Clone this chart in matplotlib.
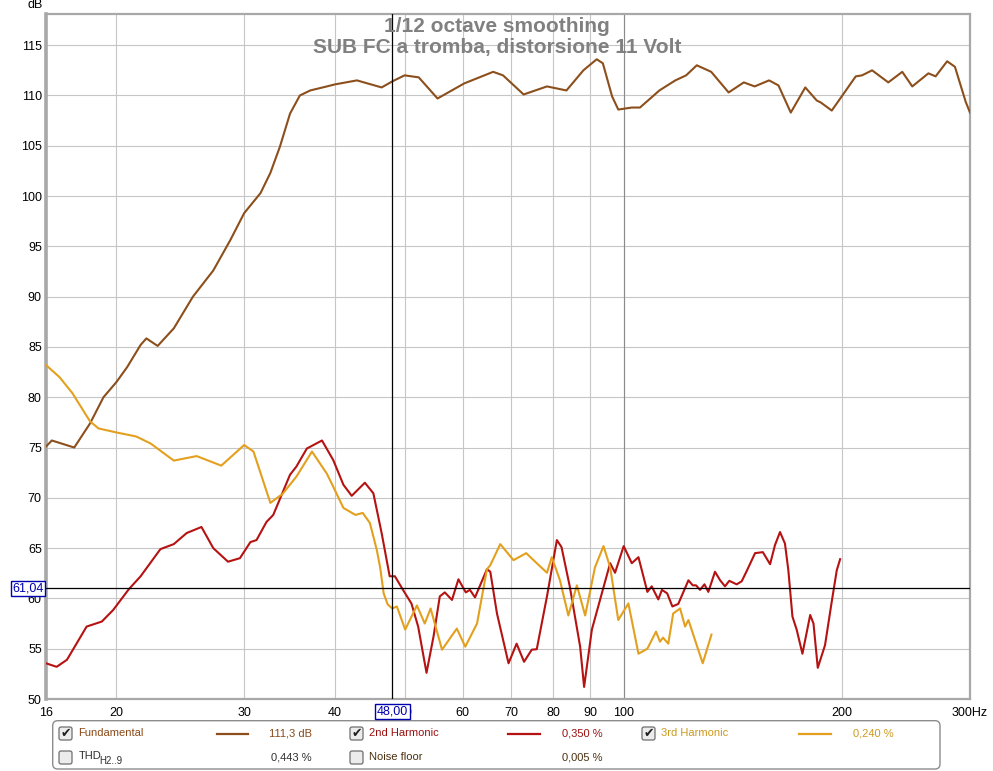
import matplotlib
matplotlib.use("Agg")
import matplotlib.pyplot as plt
from matplotlib.patches import FancyBboxPatch, Rectangle
from matplotlib.lines import Line2D
from matplotlib.ticker import NullLocator

plt.rcParams['font.family'] = ['Liberation Sans', 'DejaVu Sans']

# Fundamental (dB)
fund_f = [16.0, 16.3, 17.5, 18.4, 19.2, 20.0, 20.7, 21.6, 22.0, 22.8, 24.0, 25.5, 27.2, 28.7,
          30.0, 31.6, 32.6, 33.6, 34.7, 35.8, 37.0, 39.0, 40.0, 42.9, 46.4, 48.0, 49.9, 52.2,
          55.4, 60.3, 66.1, 68.2, 72.8, 78.4, 83.4, 88.0, 91.8, 93.6, 96.4, 98.3, 102.6, 105.3,
          112.0, 117.8, 121.9, 126.1, 132.0, 139.5, 146.4, 151.5, 158.6, 163.4, 169.9, 177.9,
          184.5, 186.9, 193.5, 208.8, 213.0, 219.9, 231.5, 242.0, 249.8, 262.9, 269.0, 279.0,
          286.0, 296.0, 300.0]
fund_db = [75.1, 75.7, 75.0, 77.4, 80.0, 81.5, 83.0, 85.2, 85.85, 85.1, 86.85, 90.0, 92.6, 95.6,
           98.3, 100.3, 102.3, 104.9, 108.2, 110.0, 110.5, 110.9, 111.1, 111.5, 110.8, 111.4, 112.0, 111.8,
           109.7, 111.2, 112.35, 112.0, 110.1, 110.9, 110.5, 112.5, 113.6, 113.2, 109.9, 108.6, 108.8, 108.8,
           110.5, 111.5, 112.0, 113.0, 112.35, 110.3, 111.3, 110.9, 111.5, 111.0, 108.3, 110.8,
           109.5, 109.3, 108.5, 111.9, 112.0, 112.5, 111.3, 112.35, 110.9, 112.2, 111.9, 113.4,
           112.85, 109.35, 108.3]

# 2nd harmonic
h2_f = [16.0, 16.55, 17.1, 18.2, 19.1, 19.8, 20.8, 21.6, 23.0, 24.0, 25.0, 26.2, 27.2, 28.5,
        29.6, 30.6, 31.2, 32.2, 32.9, 34.7, 35.4, 36.6, 38.4, 39.8, 41.1, 42.2, 44.0, 45.2,
        46.4, 47.6, 48.4, 49.7, 51.0, 52.1, 53.5, 54.7, 55.8, 56.7, 58.0, 59.2, 60.6, 61.4,
        62.4, 64.8, 65.5, 66.9, 69.4, 71.2, 72.9, 74.7, 75.9, 78.4, 80.9, 82.1, 84.3, 87.1,
        88.2, 90.4, 93.3, 95.8, 97.3, 100.0, 102.6, 104.8, 107.8, 109.3, 111.6, 112.9, 114.8,
        116.7, 118.9, 122.8, 124.5, 125.8, 127.4, 129.2, 130.8, 133.6, 135.8, 137.9, 139.8,
        143.1, 145.4, 147.8, 151.7, 155.5, 159.1, 161.6, 164.2, 166.8, 168.6, 170.8, 173.1,
        176.3, 180.7, 182.6, 185.1, 189.4, 193.5, 196.6, 198.7]
h2_db = [53.55, 53.2, 53.9, 57.2, 57.7, 58.85, 60.9, 62.2, 64.9, 65.4, 66.5, 67.1, 65.0, 63.65,
         64.0, 65.6, 65.8, 67.6, 68.3, 72.3, 73.1, 74.9, 75.7, 73.75, 71.3, 70.2, 71.5, 70.45,
         66.5, 62.2, 62.2, 60.8, 59.5, 57.2, 52.6, 56.2, 60.2, 60.6, 59.85, 61.9, 60.6, 60.85,
         60.1, 62.9, 62.65, 58.5, 53.55, 55.5, 53.7, 54.9, 54.95, 60.2, 65.8, 65.1, 61.15, 55.2,
         51.2, 56.9, 60.5, 63.5, 62.55, 65.2, 63.5, 64.1, 60.65, 61.2, 59.9, 60.85, 60.5,
         59.2, 59.45, 61.8, 61.3, 61.3, 60.85, 61.4, 60.65, 62.65, 61.8, 61.2, 61.75,
         61.4, 61.7, 62.75, 64.5, 64.6, 63.4, 65.3, 66.6, 65.45, 62.8, 58.2, 56.9,
         54.5, 58.35, 57.5, 53.1, 55.35, 59.7, 62.8, 63.9]

# 3rd harmonic
h3_f = [16.0, 16.7, 17.4, 18.0, 18.4, 18.9, 20.0, 21.3, 22.3, 24.0, 25.8, 27.9, 30.0, 30.9,
        32.6, 33.9, 35.4, 37.2, 39.0, 39.8, 41.1, 42.7, 43.7, 44.7, 45.7, 46.2, 46.7, 47.3,
        48.0, 48.7, 50.0, 51.9, 53.2, 54.2, 56.2, 58.9, 60.5, 62.8, 64.8, 65.5, 67.6, 70.5,
        73.4, 75.9, 78.4, 79.6, 81.7, 83.9, 86.2, 88.5, 91.3, 93.8, 95.8, 98.3, 101.5, 104.8,
        107.8, 110.8, 112.2, 113.3, 115.2, 117.0, 119.6, 121.5, 122.8, 128.5, 132.1]
h3_db = [83.2, 82.0, 80.4, 78.7, 77.6, 76.9, 76.5, 76.1, 75.4, 73.7, 74.15, 73.2, 75.25, 74.6,
         69.5, 70.4, 72.1, 74.6, 72.4, 71.1, 69.0, 68.3, 68.5, 67.5, 64.8, 63.0, 60.5, 59.4,
         59.0, 59.2, 56.9, 59.3, 57.5, 59.0, 54.9, 57.0, 55.2, 57.5, 62.9, 63.3, 65.4, 63.8,
         64.5, 63.5, 62.55, 64.1, 61.8, 58.3, 61.3, 58.3, 63.1, 65.2, 63.1, 57.85, 59.5, 54.5,
         55.0, 56.7, 55.7, 56.1, 55.5, 58.5, 59.0, 57.2, 57.85, 53.55, 56.4]

x_ticks = [16, 20, 30, 40, 50, 60, 70, 80, 90, 100, 200, 300]
x_labels = ['16', '20', '30', '40', '50', '60', '70', '80', '90', '100', '200', '300Hz']
y_ticks = list(range(50, 116, 5))

c_fund = '#8c4f1c'
c_h2 = '#b51212'
c_h3 = '#e3a01e'

W, H = 993, 771
fig = plt.figure(figsize=(W / 100, H / 100), dpi=100)
ax = fig.add_axes([46 / W, 72 / H, 924 / W, 685 / H])

ax.set_xscale('log')
ax.set_xlim(16, 300)
ax.set_ylim(50, 118.1)
ax.set_xticks(x_ticks)
ax.set_xticklabels(x_labels)
ax.xaxis.set_minor_locator(NullLocator())
ax.set_yticks(y_ticks)
ax.tick_params(length=0, labelsize=9, colors='black')
ax.tick_params(axis='x', pad=6)
ax.tick_params(axis='y', pad=3)
ax.grid(True, color='#c6c6c6', lw=0.8)
ax.set_axisbelow(True)
for s in ax.spines.values():
    s.set_color('#a8a8a8')
    s.set_linewidth(1.6)
ax.spines['left'].set_linewidth(2.6)

ax.axvline(100, color='#8a8a8a', lw=0.8, zorder=1)

ax.plot(fund_f, fund_db, color=c_fund, lw=1.5, zorder=3)
ax.plot(h2_f, h2_db, color=c_h2, lw=1.5, zorder=3)
ax.plot(h3_f, h3_db, color=c_h3, lw=1.5, zorder=3)

# cursors
ax.axvline(48, color='black', lw=0.9, zorder=4)
ax.axhline(61.04, color='black', lw=0.9, zorder=4)


def px(x, y):
    return x / W, 1 - y / H


fig.text(*px(497, 27), '1/12 octave smoothing', ha='center', va='center',
         fontsize=15, fontweight='bold', color='#808080')
fig.text(*px(497, 47), 'SUB FC a tromba, distorsione 11 Volt', ha='center', va='center',
         fontsize=15, fontweight='bold', color='#808080')
fig.text(*px(35, 5), 'dB', ha='center', va='center', fontsize=9)

fig.text(*px(28, 588.5), '61,04', ha='center', va='center', fontsize=9, color='#0000b0',
         bbox=dict(boxstyle='square,pad=0.12', fc='white', ec='#0000b0', lw=1), zorder=10)
fig.text(*px(392.5, 711.5), '48,00', ha='center', va='center', fontsize=9, color='#0000b0',
         bbox=dict(boxstyle='square,pad=0.12', fc='white', ec='#0000b0', lw=1), zorder=10)

# legend panel
tr = fig.dpi_scale_trans
fig.patches.append(FancyBboxPatch((52.7 / 100, 2 / 100), 887.3 / 100, 48.3 / 100,
                                  boxstyle='round,pad=0,rounding_size=0.05',
                                  transform=tr, fc='white', ec='#8c8c8c', lw=1))


def checkbox(x, y, checked):
    fig.patches.append(FancyBboxPatch((x / 100, (H - y - 13) / 100), 0.13, 0.13,
                                      boxstyle='round,pad=0,rounding_size=0.02',
                                      transform=tr, fc='#ececec', ec='#6e6e6e', lw=0.9))
    if checked:
        fig.text(*px(x + 6.5, y + 6.5), '\u2714', ha='center', va='center',
                 fontsize=9, color='#202020', family='DejaVu Sans')


def sample(x0, x1, y, color):
    fig.lines.append(Line2D([x0 / W, x1 / W], [1 - y / H, 1 - y / H],
                            transform=fig.transFigure, color=color, lw=1.6))


r1, r2 = 733.5, 757
checkbox(59, 727, True)
fig.text(*px(78, r1), 'Fundamental', va='center', fontsize=8, color='#8a4a18')
sample(217, 248, r1, c_fund)
fig.text(*px(312, r1), '111,3 dB', va='center', ha='right', fontsize=8, color='#8a4a18')

checkbox(350, 727, True)
fig.text(*px(369, r1), '2nd Harmonic', va='center', fontsize=8, color='#9a1010')
sample(508, 540, r1, c_h2)
fig.text(*px(603, r1), '0,350 %', va='center', ha='right', fontsize=8, color='#9a1010')

checkbox(642, 727, True)
fig.text(*px(661, r1), '3rd Harmonic', va='center', fontsize=8, color='#cc9a1e')
sample(799, 831, r1, c_h3)
fig.text(*px(894, r1), '0,240 %', va='center', ha='right', fontsize=8, color='#cc9a1e')

checkbox(59, 751, False)
fig.text(*px(79, r2 - 1), 'THD', va='center', fontsize=8, color='#303030')
fig.text(*px(99, r2 + 4), 'H2..9', va='center', fontsize=7, color='#303030')
fig.text(*px(312, r2), '0,443 %', va='center', ha='right', fontsize=8, color='#303030')

checkbox(350, 751, False)
fig.text(*px(369, r2), 'Noise floor', va='center', fontsize=8, color='#4a3010')
fig.text(*px(603, r2), '0,005 %', va='center', ha='right', fontsize=8, color='#4a3010')

fig.savefig('out.png', dpi=100)
